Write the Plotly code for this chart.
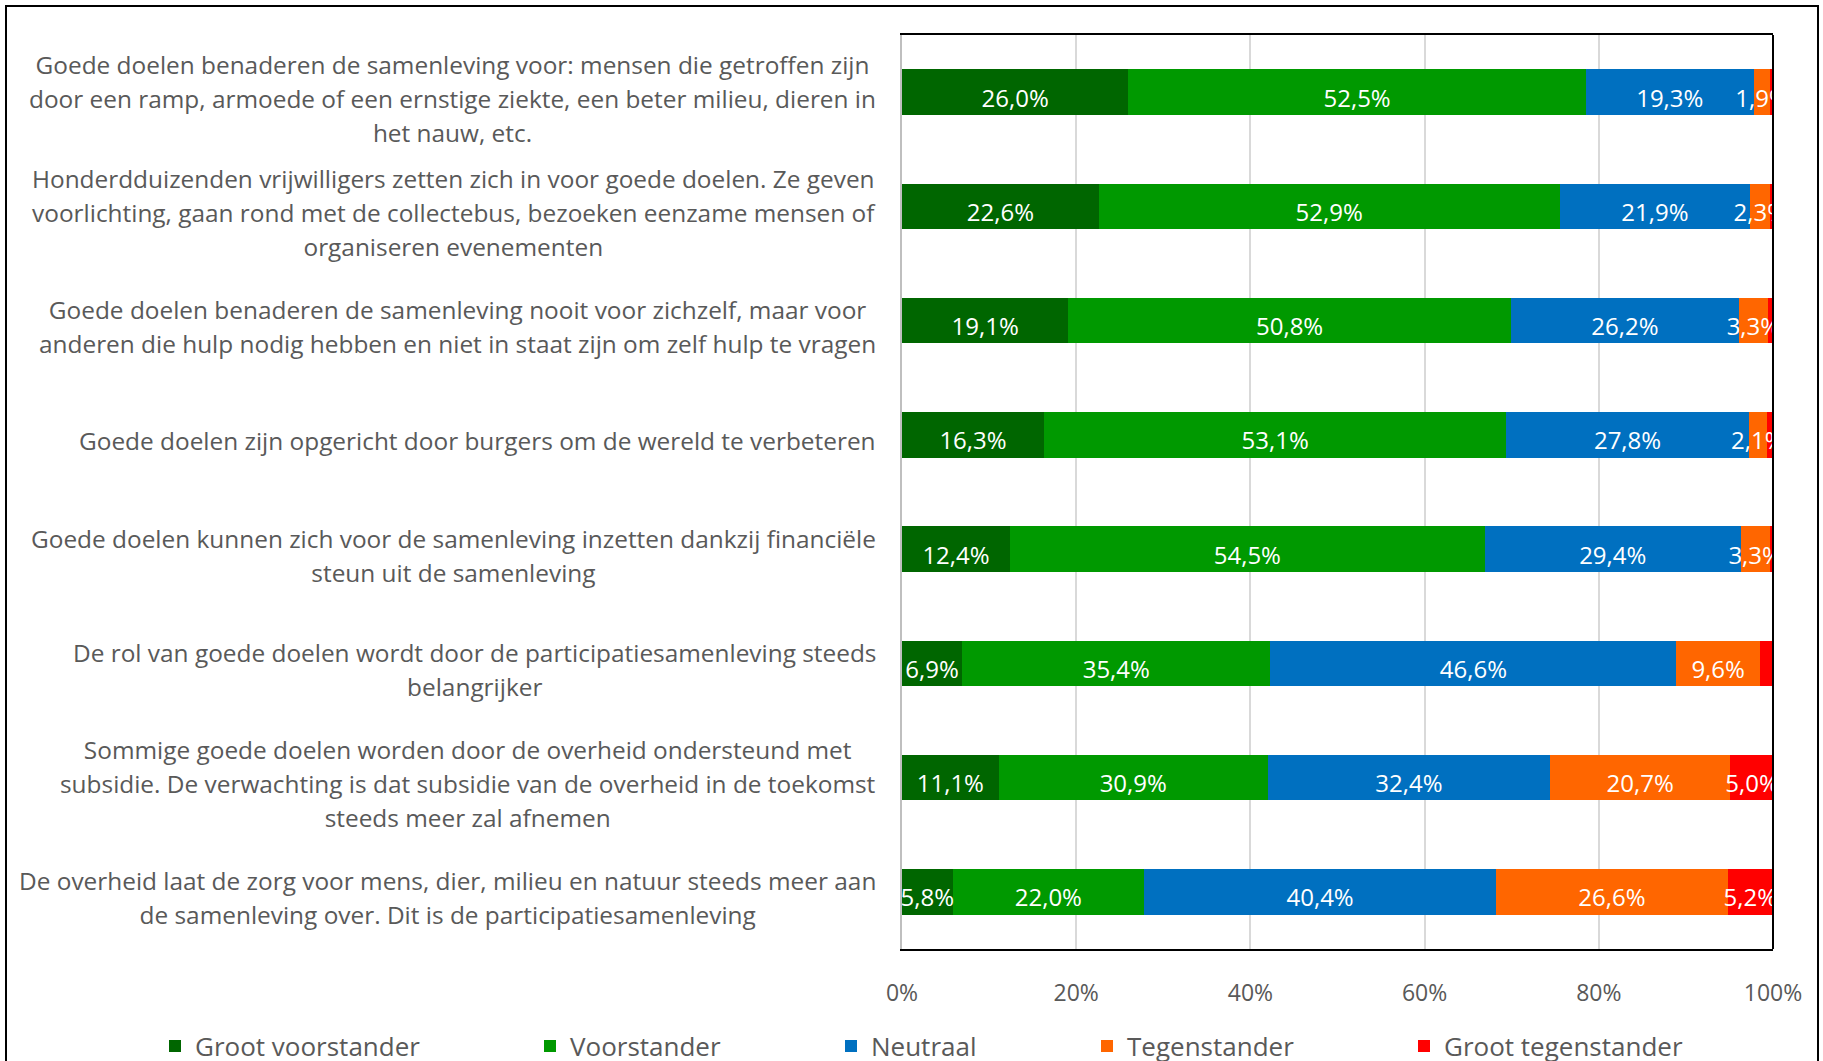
import plotly.graph_objects as go

# Statements (top to bottom), with manual line breaks
categories = [
    "Goede doelen benaderen de samenleving voor: mensen die getroffen zijn<br>door een ramp, armoede of een ernstige ziekte, een beter milieu, dieren in<br>het nauw, etc.",
    "Honderdduizenden vrijwilligers zetten zich in voor goede doelen. Ze geven<br>voorlichting, gaan rond met de collectebus, bezoeken eenzame mensen of<br>organiseren evenementen",
    "Goede doelen benaderen de samenleving nooit voor zichzelf, maar voor<br>anderen die hulp nodig hebben en niet in staat zijn om zelf hulp te vragen",
    "Goede doelen zijn opgericht door burgers om de wereld te verbeteren",
    "Goede doelen kunnen zich voor de samenleving inzetten dankzij financiële<br>steun uit de samenleving",
    "De rol van goede doelen wordt door de participatiesamenleving steeds<br>belangrijker",
    "Sommige goede doelen worden door de overheid ondersteund met<br>subsidie. De verwachting is dat subsidie van de overheid in de toekomst<br>steeds meer zal afnemen",
    "De overheid laat de zorg voor mens, dier, milieu en natuur steeds meer aan<br>de samenleving over. Dit is de participatiesamenleving",
]

groot_voorstander = [26.0, 22.6, 19.1, 16.3, 12.4, 6.9, 11.1, 5.8]
voorstander = [52.5, 52.9, 50.8, 53.1, 54.5, 35.4, 30.9, 22.0]
neutraal = [19.3, 21.9, 26.2, 27.8, 29.4, 46.6, 32.4, 40.4]
tegenstander = [1.9, 2.3, 3.3, 2.1, 3.3, 9.6, 20.7, 26.6]
groot_tegenstander = [0.3, 0.3, 0.6, 0.7, 0.4, 1.5, 5.0, 5.2]
groot_tegenstander_label = [False, False, False, False, False, False, True, True]

series_names = ["Groot voorstander", "Voorstander", "Neutraal", "Tegenstander", "Groot tegenstander"]
series_values = [groot_voorstander, voorstander, neutraal, tegenstander, groot_tegenstander]
series_colors = ["#006600", "#009900", "#0070C0", "#FF6600", "#FF0000"]
legend_left_px = [155, 530, 831, 1087, 1404]

tick_vals = [0, 20, 40, 60, 80, 100]
tick_text = ["0%", "20%", "40%", "60%", "80%", "100%"]

FONT = "Open Sans"
GREY = "#595959"
W, H = 1823, 1061
ML, MR, MT, MB = 902, 50, 35, 112
PW, PH = W - ML - MR, H - MT - MB
LABEL_DROP = 0.075  # value labels sit slightly below the bar centre

rows = list(range(len(categories)))


def pct(v):
    return f"{v:.1f}".replace(".", ",") + "%"


fig = go.Figure()
for i, (name, vals, col) in enumerate(zip(series_names, series_values, series_colors)):
    fig.add_trace(go.Bar(
        name=name, y=rows, x=vals, orientation="h",
        marker=dict(color=col, line=dict(width=0)),
        hoverinfo="skip",
        legend="legend" if i == 0 else f"legend{i + 1}",
    ))

# Value labels at the middle of each segment (clipped by the plot area)
lab_x, lab_y, lab_t = [], [], []
base = [0.0] * len(categories)
for name, vals in zip(series_names, series_values):
    for r, v in enumerate(vals):
        show = groot_tegenstander_label[r] if name == "Groot tegenstander" else True
        if show:
            lab_x.append(base[r] + v / 2)
            lab_y.append(r + LABEL_DROP)
            lab_t.append(pct(v))
        base[r] += v
fig.add_trace(go.Scatter(
    x=lab_x, y=lab_y, text=lab_t, mode="text", textposition="middle center",
    textfont=dict(family=FONT, size=24, color="white"),
    showlegend=False, hoverinfo="skip", cliponaxis=True,
))

# Category labels: centred multi-line text, right-aligned against the axis.
# The annotation font sets the line spacing, the span sets glyph size.
for r, cat in zip(rows, categories):
    styled = "<br>".join(
        f'<span style="font-size:24.4px">{line}</span>' for line in cat.split("<br>")
    )
    fig.add_annotation(
        x=0, xref="paper", y=r, yref="y", xanchor="right", yanchor="middle",
        xshift=-24, yshift=-6, text=styled, align="center", showarrow=False,
        font=dict(family=FONT, size=26, color=GREY),
    )

legends = {}
for i, px in enumerate(legend_left_px):
    key = "legend" if i == 0 else f"legend{i + 1}"
    legends[key] = dict(
        x=px / W, xanchor="left", xref="container",
        y=1 - 1046 / H, yanchor="middle", yref="container",
        orientation="h", font=dict(family=FONT, size=26, color=GREY),
        bgcolor="rgba(0,0,0,0)", itemwidth=30, borderwidth=0,
    )

# Chart and plot borders
shapes = [
    dict(type="rect", xref="paper", yref="paper",
         x0=(6 - ML) / PW, x1=(1818 - ML) / PW,
         y0=-(MB + 40) / PH, y1=1 + (MT - 6) / PH,
         line=dict(color="black", width=2), fillcolor="rgba(0,0,0,0)", layer="below"),
    dict(type="line", xref="paper", yref="paper", x0=1, x1=1, y0=0, y1=1,
         line=dict(color="black", width=2), layer="above"),
]

fig.update_layout(
    barmode="stack", bargap=0.6,
    width=W, height=H,
    margin=dict(l=ML, r=MR, t=MT, b=MB, pad=0, autoexpand=False),
    paper_bgcolor="white", plot_bgcolor="white",
    font=dict(family=FONT, color=GREY),
    showlegend=True,
    shapes=shapes,
    **legends,
)
fig.update_xaxes(
    range=[0, 100], tickvals=tick_vals, ticktext=tick_text,
    tickfont=dict(family=FONT, size=23, color=GREY),
    showgrid=True, gridcolor="#D9D9D9", gridwidth=2,
    showline=True, linecolor="black", linewidth=2, mirror=True,
    ticks="", ticklabelstandoff=22, zeroline=False, fixedrange=True,
)
fig.update_yaxes(
    range=[len(categories) - 0.5, -0.5], showticklabels=False, ticks="",
    showline=True, linecolor="#BFBFBF", linewidth=2,
    showgrid=False, zeroline=False, fixedrange=True,
)

fig.write_html("out.html", config={"displayModeBar": False})
